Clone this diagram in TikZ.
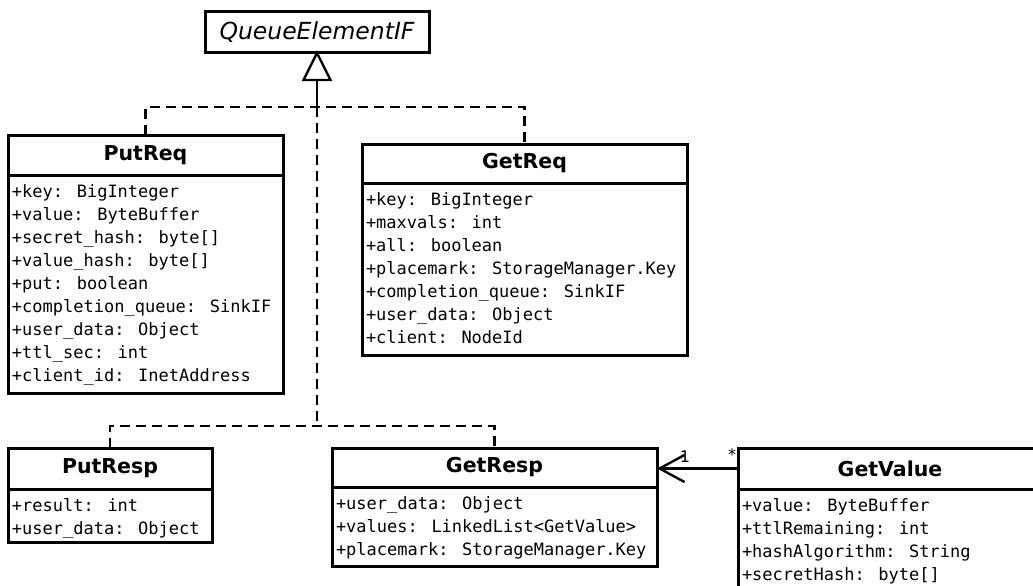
\documentclass[tikz,border=0pt]{standalone}
\usepackage{fontspec}
\setmainfont{DejaVu Sans}
\newfontfamily\attrfont{DejaVu Sans Mono}
\usetikzlibrary{arrows.meta}

\tikzset{
  frame/.style={draw, line width=3pt, rectangle, inner sep=0pt, outer sep=0pt, anchor=north west},
  classtitle/.style={font=\fontsize{20.5}{24}\selectfont\bfseries},
  ifacetitle/.style={font=\fontsize{23.5}{27}\selectfont\itshape},
  attrs/.style={anchor=north west, inner sep=0pt, outer sep=0pt, align=left,
    font=\attrfont\fontsize{17}{23}\selectfont},
  realize/.style={line width=2.8pt, dash pattern=on 10pt off 6pt},
  stem/.style={line width=2.8pt},
  assoc/.style={line width=2.4pt,
    -{Straight Barb[length=25pt, width=27pt, line width=2.4pt]}},
  mult/.style={font=\fontsize{16}{18}\selectfont, inner sep=0pt},
}

\begin{document}
\begin{tikzpicture}[x=1pt, y=-1pt]
  \useasboundingbox (0,0) rectangle (1033,586);
  \clip (0,0) rectangle (1033,586);

  % interface
  \node[frame, ifacetitle, minimum width=224pt, minimum height=41pt] (qe) at (205,12) {QueueElementIF};

  % PutReq
  \node[frame, classtitle, minimum width=275pt, minimum height=40pt] (putreq) at (8,135) {PutReq};
  \node[frame, minimum width=275pt, minimum height=218pt] (putreqBody) at (putreq.south west) {};
  \node[attrs] (putreqText) at ([xshift=4pt, yshift=-9.5pt]putreq.south west)
    {+key: BigInteger\\+value: ByteBuffer\\+secret\_hash: byte[]\\+value\_hash: byte[]\\+put: boolean\\+completion\_queue: SinkIF\\+user\_data: Object\\+ttl\_sec: int\\+client\_id: InetAddress};

  % GetReq
  \node[frame, classtitle, minimum width=325pt, minimum height=39pt] (getreq) at (362,144) {GetReq};
  \node[frame, minimum width=325pt, minimum height=172pt] (getreqBody) at (getreq.south west) {};
  \node[attrs] (getreqText) at ([xshift=4pt, yshift=-9.5pt]getreq.south west)
    {+key: BigInteger\\+maxvals: int\\+all: boolean\\+placemark: StorageManager.Key\\+completion\_queue: SinkIF\\+user\_data: Object\\+client: NodeId};

  % PutResp
  \node[frame, classtitle, minimum width=204pt, minimum height=41pt] (putresp) at (8,448) {PutResp};
  \node[frame, minimum width=204pt, minimum height=53pt] (putrespBody) at (putresp.south west) {};
  \node[attrs] (putrespText) at ([xshift=4pt, yshift=-9.5pt]putresp.south west)
    {+result: int\\+user\_data: Object};

  % GetResp
  \node[frame, classtitle, minimum width=325pt, minimum height=39pt] (getresp) at (332,448) {GetResp};
  \node[frame, minimum width=325pt, minimum height=79pt] (getrespBody) at (getresp.south west) {};
  \node[attrs] (getrespText) at ([xshift=4pt, yshift=-9.5pt]getresp.south west)
    {+user\_data: Object\\+values: LinkedList<GetValue>\\+placemark: StorageManager.Key};

  % GetValue (runs past the right edge)
  \node[frame, classtitle, minimum width=304pt, minimum height=41pt] (getvalue) at (738,448) {GetValue};
  \node[frame, minimum width=304pt, minimum height=120pt] (getvalueBody) at (getvalue.south west) {};
  \node[attrs] (getvalueText) at ([xshift=4pt, yshift=-9.5pt]getvalue.south west)
    {+value: ByteBuffer\\+ttlRemaining: int\\+hashAlgorithm: String\\+secretHash: byte[]};

  % realization buses
  \coordinate (topbus) at (317,107);
  \coordinate (botbus) at (317,426);
  \coordinate (triBase) at (317,80);

  \draw[realize] (putreq.north) -- (putreq.north |- topbus) -- (getreq.north |- topbus) -- (getreq.north);
  \draw[realize] (putresp.north) -- (putresp.north |- botbus) -- (getresp.north |- botbus) -- (getresp.north);
  \draw[realize] (topbus) -- (botbus);
  \draw[stem] (triBase) -- (topbus);
  \draw[line width=2.4pt, fill=white, line join=miter] (qe.south) -- ([xshift=-13.5pt]triBase) -- ([xshift=13.5pt]triBase) -- cycle;

  % association GetValue -> GetResp
  \draw[assoc] (getvalue.west) -- (getvalue.west -| getresp.east);
  \node[mult] (multOne) at (685,457) {1};
  \node[mult] (multMany) at (732,455) {*};
\end{tikzpicture}
\end{document}
